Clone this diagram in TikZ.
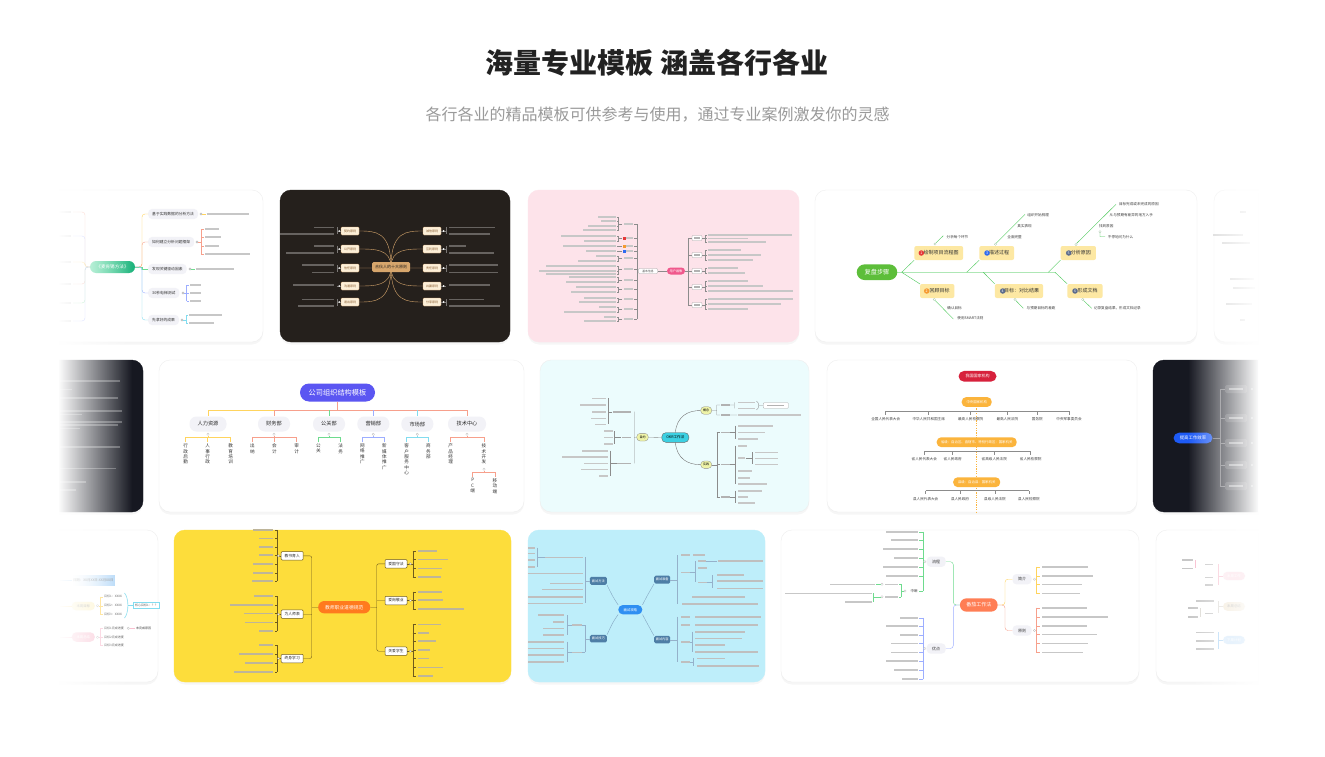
\documentclass[tikz,border=0pt]{standalone}
\usepackage{fontspec}
\setmainfont{Noto Sans CJK SC}
\usepackage{tikz}
\usetikzlibrary{arrows}
\usetikzlibrary{fadings}

\definecolor{titleink}{HTML}{222222}
\definecolor{subink}{HTML}{9A9A9A}
\definecolor{cardline}{HTML}{EEEEEE}
\definecolor{mintL}{HTML}{5ADBA2}
\definecolor{mintR}{HTML}{1DB27C}
\definecolor{pillgray}{HTML}{F2F2F7}
\definecolor{lnyellow}{HTML}{FFD45E}
\definecolor{lnsalmon}{HTML}{F7A08C}
\definecolor{lngreen}{HTML}{6EDB8E}
\definecolor{lnblue}{HTML}{9DAEFF}
\definecolor{lncyan}{HTML}{82DCEF}
\definecolor{darkbg}{HTML}{25201C}
\definecolor{tan}{HTML}{D7A66C}
\definecolor{cream}{HTML}{FCEFD8}
\definecolor{pinkbg}{HTML}{FDE3EA}
\definecolor{rose}{HTML}{F0588C}
\definecolor{fishgreen}{HTML}{5DBE3A}
\definecolor{bonegreen}{HTML}{4BC95A}
\definecolor{boneyellow}{HTML}{FDE8A3}
\definecolor{dotred}{HTML}{E63A3A}
\definecolor{dotorange}{HTML}{F59A30}
\definecolor{dotblue}{HTML}{2F6BF0}
\definecolor{dotslate}{HTML}{5B6B8C}
\definecolor{nightbg}{HTML}{161821}
\definecolor{orgblue}{HTML}{5B56F2}
\definecolor{cyanbg}{HTML}{ECFCFD}
\definecolor{okrcyan}{HTML}{3CD0E2}
\definecolor{okrlime}{HTML}{EEF3A8}
\definecolor{govred}{HTML}{D7213C}
\definecolor{govorange}{HTML}{FBB43C}
\definecolor{tipblue}{HTML}{1D5AF6}
\definecolor{teachyellow}{HTML}{FDDD3B}
\definecolor{teachorange}{HTML}{FF7A1E}
\definecolor{teachline}{HTML}{6E5A1C}
\definecolor{skybg}{HTML}{BEEEFA}
\definecolor{jobblue}{HTML}{2F8FF2}
\definecolor{slate}{HTML}{4E7EA6}
\definecolor{tomato}{HTML}{FF7E55}
\definecolor{weekblue}{HTML}{A8D2F7}
\definecolor{weekyellow}{HTML}{FDF2C6}
\definecolor{weekpink}{HTML}{F9BFD0}
\definecolor{beige}{HTML}{F1E6D2}

\tikzfading[name=fade west,left color=transparent!0,right color=transparent!100]
\tikzfading[name=fade east,left color=transparent!100,right color=transparent!0]

% grey smudge standing for text too small to read
\newcommand{\leafbar}[4][black!22]{\fill[#1] (#2,#3-0.8) rectangle (#2+#4,#3+0.8);}
\newcommand{\leafbarl}[4][black!22]{\fill[#1] (#2-#4,#3-0.8) rectangle (#2,#3+0.8);}
\newcommand{\knob}[2][black!35]{\draw[#1,fill=white,line width=0.3pt] #2 circle (1.2);}

\begin{document}
\begin{tikzpicture}[x=1pt,y=-1pt,
  card/.style={draw=cardline,fill=white,rounded corners=11pt,line width=0.4pt,
    preaction={fill=black,opacity=0.035,draw=none,transform canvas={yshift=-2.5pt}}},
  stem/.style={line width=0.4pt},
  tiny/.style={font=\fontsize{3.6}{4.3}\selectfont,inner sep=0.5pt,text=black!75},
  graypill/.style={fill=pillgray,rounded corners=4pt,minimum height=9pt,inner xsep=4pt,
    font=\fontsize{3.8}{4.5}\selectfont,text=black!80},
  creambox/.style={fill=cream,draw=tan,line width=0.3pt,rounded corners=1pt,minimum width=18pt,
    minimum height=8pt,inner sep=0.5pt,font=\fontsize{3}{3.5}\selectfont,text=brown!70!black},
  whitebox/.style={fill=white,draw=black!35,line width=0.3pt,rounded corners=0.8pt,minimum height=5pt,
    inner sep=0.6pt,font=\fontsize{2.8}{3.2}\selectfont,text=black!70},
  bone/.style={fill=boneyellow,rounded corners=2pt,minimum height=14pt,font=\fontsize{5}{6}\selectfont,text=black!80},
  numdot/.style={circle,inner sep=0pt,minimum size=5.5pt,text=white,font=\fontsize{3.6}{4}\selectfont},
  deptpill/.style={fill=pillgray,rounded corners=7pt,minimum width=32pt,minimum height=15pt,
    font=\fontsize{5.2}{6}\selectfont,text=black!85},
  vtext/.style={anchor=north,align=center,inner sep=0pt,font=\fontsize{4.6}{5.4}\selectfont,text=black!80},
  govpill/.style={fill=govorange,rounded corners=4.5pt,minimum height=9.5pt,inner xsep=4pt,
    font=\fontsize{3.4}{4}\selectfont,text=white},
  teachbox/.style={fill=white,draw=teachline,line width=0.5pt,rounded corners=1pt,minimum width=22pt,
    minimum height=8.5pt,inner sep=0.5pt,font=\fontsize{3.8}{4.5}\selectfont,text=black!85},
  jobbox/.style={fill=slate,rounded corners=1.5pt,minimum width=16pt,minimum height=8pt,inner sep=0.5pt,
    font=\fontsize{3.2}{4}\selectfont,text=white}]
  \tikzstyle{leafline}=[black!45,line width=0.35pt]
  \tikzstyle{govtick}=[black!45,line width=0.5pt]

  \fill[white] (0,0) rectangle (1325,757);
  \useasboundingbox (0,0) rectangle (1325,757);

  \node[font=\fontsize{28}{34}\selectfont\bfseries,text=titleink] (title) at (657,63) {海量专业模板 涵盖各行各业};
  \node[font=\fontsize{16}{20}\selectfont,text=subink] (subtitle) at (657.5,115) {各行各业的精品模板可供参考与使用，通过专业案例激发你的灵感};

  \begin{scope}
  \clip (59,150) rectangle (1258,730);

  % ---------------- row 1 ----------------
  % mckinsey, cut at the left
  \draw[card] (-60,190) rectangle (263,342);
  \foreach \y/\c in {212/lnsalmon,236/lnblue,262/lnyellow,284/lnsalmon,303/lngreen,321/lnblue}{
    \draw[\c,stem,rounded corners=3pt] (90,267) -- (85,267) |- (73,\y);
    \leafbarl{71}{\y}{12}
  }
  \node[left color=mintL,right color=mintR,rounded corners=6pt,minimum width=45pt,minimum height=12pt,
    text=white,font=\fontsize{4.6}{5.5}\selectfont] (mck) at (112.5,267) {《麦肯锡方法》};
  \node[graypill,anchor=west] (mck1) at (148,214) {基于实践数据的分析方法};
  \node[graypill,anchor=west] (mck2) at (148,242) {如何建立分析问题框架};
  \node[graypill,anchor=west] (mck3) at (148,269) {发现关键驱动因素};
  \node[graypill,anchor=west] (mck4) at (148,293) {30秒电梯测试};
  \node[graypill,anchor=west] (mck5) at (148,320) {先拿好的成果};
  \draw[lnyellow,stem,rounded corners=3pt] (mck.east) -- (142,267) |- (mck1.west);
  \draw[lnsalmon,stem,rounded corners=3pt] (mck.east) -- (142,267) |- (mck2.west);
  \draw[lngreen,stem] (mck.east) -- (142,267) |- (mck3.west);
  \draw[lnblue,stem,rounded corners=3pt] (mck.east) -- (142,267) |- (mck4.west);
  \draw[lncyan,stem,rounded corners=3pt] (mck.east) -- (142,267) |- (mck5.west);
  \knob{(201,214)}
  \draw[lnyellow,stem] (202.2,214) -- (206,214);
  \leafbar{207}{214}{42}
  \knob{(197,242)}
  \draw[lnsalmon,stem] (198.2,242) -- (201,242) (201,229) -- (201,254);
  \foreach \y/\l in {229/14,237/16,246/14,254/45}{\draw[lnsalmon,stem] (201,\y) -- (203.5,\y); \leafbar{204.5}{\y}{\l}}
  \knob{(190,269)}
  \draw[lngreen,stem] (191.2,269) -- (195,269);
  \leafbar{196}{269}{38}
  \knob{(183,293)}
  \draw[lnblue,stem] (184.2,293) -- (186.5,293) (186.5,285) -- (186.5,301);
  \foreach \y in {285,293,301}{\draw[lnblue,stem] (186.5,\y) -- (188.5,\y); \leafbar{189.5}{\y}{11}}
  \knob{(182,320)}
  \draw[lncyan,stem] (183.2,320) -- (186,320) (186,315) -- (186,323);
  \foreach \y/\l in {315/33,323/25}{\draw[lncyan,stem] (186,\y) -- (188,\y); \leafbar{189}{\y}{\l}}

  % partners (dark)
  \draw[card,fill=darkbg,draw=darkbg] (280,190) rectangle (510,342);
  \foreach \y/\t [count=\i] in {231/契约原则,249/公开原则,268/信任原则,286/沟通原则,302/退出原则}{
    \draw[tan,stem] (391,267) .. controls (391,\y) and (375,\y) .. (359,\y);
    \node[creambox] (pl\i) at (350,\y) {\t};
  }
  \foreach \y/\t [count=\i] in {231/诚信原则,249/互利原则,268/责任原则,286/共赢原则,302/分享原则}{
    \draw[tan,stem] (391,267) .. controls (391,\y) and (407,\y) .. (423,\y);
    \node[creambox] (pr\i) at (432,\y) {\t};
  }
  \node[fill=tan,rounded corners=1.5pt,minimum width=38pt,minimum height=10pt,inner sep=0.5pt,
    font=\fontsize{4}{5}\selectfont,text=darkbg] (hhr) at (391,267) {合伙人的十大原则};
  \foreach \a/\b/\m in {227.3/234/231,245.7/252.7/249,265/272.3/268,285/285/286,299.3/306/302}{
    \draw[white!40!darkbg,stem] (336.7,\a) -- (336.7,\b) (336.7,\m) -- (341,\m)
      (446,\a) -- (446,\b) (446,\m) -- (441,\m);
    \fill[white] (339.2,\m) circle (0.9) (443.6,\m) circle (0.9);
  }
  \foreach \y/\l in {227.3/20,234/54,245.7/20,252.7/48.7,265/32.7,272.3/22.7,285/41,299.3/32,306/36.7}{
    \leafbarl[white!30!darkbg]{334.3}{\y}{\l}
  }
  \foreach \y/\l in {227.3/46.7,234/41.7,245.7/17.7,252.7/45,265/49,272.3/49,285/41.7,299.3/35,306/51.7}{
    \leafbar[white!30!darkbg]{448.5}{\y}{\l}
  }

  % user portrait (pink)
  \draw[card,fill=pinkbg,draw=pinkbg] (528,190) rectangle (799,342);
  \node[whitebox,minimum width=19pt] (upl) at (648,271) {基本信息};
  \node[fill=rose,text=white,rounded corners=3.5pt,minimum width=18pt,minimum height=7pt,inner sep=0.5pt,
    font=\fontsize{3.2}{4}\selectfont] (upc) at (676,271) {用户画像};
  \draw[leafline] (upl.east) -- (upc.west);
  \draw[leafline] (upl.west) -- (637,271) (637,224) -- (637,319);
  \foreach \s/\a/\b in {224/217/230,238/236/241,246/246/246,251/251/251,258/256/261,269/266/274,
      280/277/282,289/287/292,299/298/302,309/307/312,319/317/321}{
    \draw[leafline] (637,\s) -- (633.5,\s) (622,\s) -- (618.5,\s) (618.5,\a) -- (618.5,\b);
    \leafbarl[black!22]{633}{\s}{9}
  }
  \fill[dotred] (622.5,236.8) rectangle (625.5,239.8);
  \fill[dotorange] (622.5,244.5) rectangle (625.5,247.5);
  \fill[dotblue] (622.5,249.5) rectangle (625.5,252.5);
  \foreach \y/\l in {217/18,221/15,226/28,230/33,236/55,241/32,246/53,251/30,256/20,261/38,266/70,271/77,
      274/70,277/47,282/50,287/40,292/45,298/32,302/37,307/17,312/52,317/12,321/32}{
    \draw[leafline] (618.5,\y) -- (617,\y);
    \leafbarl{616}{\y}{\l}
  }
  \draw[leafline] (upc.east) -- (688,271) (688,238) -- (688,305);
  \foreach \y [count=\i] in {238,255,271,287,305}{
    \draw[leafline] (688,\y) -- (692,\y);
    \node[whitebox,minimum width=10pt] (upr\i) at (697,\y) {};
    \leafbar[black!30]{694}{\y}{6}
  }
  \foreach \s/\a/\b in {238/235/242,255/250/260,271/268/273,287/281/291,305/299/309}{
    \draw[leafline] (702,\s) -- (705,\s) (705,\a) -- (705,\b);
  }
  \foreach \y/\l in {235/84,238.5/40,242/58,250/33,255/53,260/45,268/30,273/37,281/40,286/55,291/85,
      299/85,304/73,309/40}{
    \draw[leafline] (705,\y) -- (707,\y);
    \leafbar{708}{\y}{\l}
  }

  % review steps (fishbone)
  \draw[card] (815,190) rectangle (1197,342);
  \draw[bonegreen!45,line width=1.6pt] (897,272.3) -- (1055,272.3);
  \node[fill=fishgreen,text=white,rounded corners=8pt,minimum width=40.6pt,minimum height=15.7pt,
    font=\fontsize{6.2}{7}\selectfont] (fp) at (877,272.2) {复盘步骤};
  \node[bone,minimum width=48.7pt] (b1) at (938.7,253) {\hspace{5pt}绘制项目流程图};
  \node[bone,minimum width=34.7pt] (b3) at (996.7,253) {\hspace{5pt}描述过程};
  \node[bone,minimum width=35.3pt] (b5) at (1078.3,253) {\hspace{5pt}分析原因};
  \node[bone,minimum width=34.3pt] (b2) at (937.2,291) {\hspace{5pt}回顾目标};
  \node[bone,minimum width=48.3pt] (b4) at (1019,291) {\hspace{5pt}目标：对比结果};
  \node[bone,minimum width=35.3pt] (b6) at (1085,291) {\hspace{5pt}形成文档};
  \node[numdot,fill=dotred] (n1) at (921.3,253) {1};
  \node[numdot,fill=dotblue] (n3) at (987,253) {3};
  \node[numdot,fill=dotslate] (n5) at (1068.7,253) {5};
  \node[numdot,fill=dotorange] (n2) at (926.7,291) {2};
  \node[numdot,fill=dotslate] (n4) at (1002.7,291) {4};
  \node[numdot,fill=dotslate] (n6) at (1075,291) {6};
  \draw[bonegreen,stem] (901.7,272.3) -- (b1.south west) (901.7,272.3) -- (920,284)
    (966.7,272.3) -- (b3.south west) (983.3,272.3) -- (b4.north west)
    (1048.3,272.3) -- (b5.south west) (1055,272.3) -- (b6.north west);
  \draw[bonegreen,stem] (936,242.8) -- (943.3,235.7) (996.3,243) -- (1025,214.3)
    (1076.8,243.2) -- (1116,204.3) (1100,233) |- (1105,236.7)
    (935.2,300.5) -- (953.3,319) (1015.8,300.5) -- (1023.3,308.3) (1083.5,300.5) -- (1091.7,308.3);
  \knob[bonegreen!60!black!40]{(935,244)}
  \knob[bonegreen!60!black!40]{(995.6,244.2)}
  \knob[bonegreen!60!black!40]{(1076,244.4)}
  \knob[bonegreen!60!black!40]{(1100,231.7)}
  \knob[bonegreen!60!black!40]{(934.3,299.5)}
  \knob[bonegreen!60!black!40]{(1015,299.5)}
  \knob[bonegreen!60!black!40]{(1082.7,299.5)}
  \node[tiny,anchor=west] (f1) at (946,236.7) {分析每个环节};
  \node[tiny,anchor=west] (f2) at (1026.7,215) {组织开始梳理};
  \node[tiny,anchor=west] (f3) at (1016.7,225.7) {真实表现};
  \node[tiny,anchor=west] (f4) at (1006.7,236.7) {全面完整};
  \node[tiny,anchor=west] (f5) at (1118.3,204.3) {目标完成或未完成的原因};
  \node[tiny,anchor=west] (f6) at (1109,215) {从与预期有差异的地方入手};
  \node[tiny,anchor=west] (f7) at (1098.3,225.7) {找到原因};
  \node[tiny,anchor=west] (f8) at (1107.2,236.7) {不停地问为什么};
  \node[tiny,anchor=west] (f9) at (946.7,308.3) {确认目标};
  \node[tiny,anchor=west] (f10) at (956.7,318.3) {使用SMART法则};
  \node[tiny,anchor=west] (f11) at (1026,308.3) {与预期目标的差距};
  \node[tiny,anchor=west] (f12) at (1093.3,308.3) {记录复盘结果，形成文档记录};

  % next card, cut at the right
  \draw[card] (1214,190) rectangle (1400,342);
  \foreach \y/\a/\l in {212/1240/6,235/1213/30,243/1222/28,279/1230/24,288/1233/22,304/1226/26,320/1240/5}{
    \leafbar[black!18]{\a}{\y}{\l}
  }

  % ---------------- row 2 ----------------
  % dark notes, cut at the left
  \draw[card,fill=nightbg,draw=nightbg] (-60,360) rectangle (143,512);
  \foreach \y/\l in {381/60,389.3/12,397.7/58,411/62,414.3/22,421.7/62,425/58,428.3/20,446.7/60,468.3/56,
      481.7/26,490/16}{
    \leafbar[white!28!nightbg]{60}{\y}{\l}
  }

  % company org chart
  \draw[card] (159,360) rectangle (524,512);
  \node[fill=orgblue,text=white,rounded corners=9pt,minimum width=75pt,minimum height=18pt,
    font=\fontsize{7.2}{8}\selectfont] (org) at (337.5,392.5) {公司组织结构模板};
  \node[deptpill,minimum width=37pt] (hr) at (208,424) {人力资源};
  \node[deptpill] (fin) at (274,424) {财务部};
  \node[deptpill] (pr) at (329,424) {公关部};
  \node[deptpill] (mkt) at (373.3,424) {营销部};
  \node[deptpill] (mar) at (417.3,424) {市场部};
  \node[deptpill,minimum width=38pt] (tech) at (467,424) {技术中心};
  \draw[lnsalmon,line width=0.6pt] (org.south) -- (337.5,410) (274,410) -- (467,410);
  \draw[lnyellow,line width=0.6pt] (208,410) -- (274,410) (208,410) -- (hr.north);
  \draw[lnsalmon,line width=0.6pt] (274,410) -- (fin.north) (467,410) -- (tech.north);
  \draw[lngreen,line width=0.6pt] (329,410) -- (pr.north);
  \draw[lnblue,line width=0.6pt] (373.3,410) -- (mkt.north);
  \draw[lncyan,line width=0.6pt] (417.3,410) -- (mar.north);
  \foreach \c/\m/\a/\b in {lnyellow/208/185.7/230.7,lnsalmon/274/252.3/296.7,lngreen/329/318.3/340.7,
      lnblue/373.3/362.3/384.3,lncyan/417.3/406.7/428.3,lnsalmon/467/450.7/484}{
    \draw[\c,line width=0.6pt] (\m,435.5) -- (\m,437.3) (\a,442.3) -- (\a,437.3) -- (\b,437.3) -- (\b,442.3);
    \knob[black!25]{(\m,434.3)}
  }
  \draw[lnyellow,line width=0.6pt] (207.7,437.3) -- (207.7,442.3);
  \draw[lnsalmon,line width=0.6pt] (274.3,437.3) -- (274.3,442.3);
  \foreach \x/\t [count=\i] in {185.7/行\\政\\后\\勤,207.7/人\\事\\行\\政,230.7/教\\育\\培\\训,252.3/出\\纳,
      274.3/会\\计,296.7/审\\计,318.3/公\\关,340.7/法\\务,362.3/网\\络\\推\\广,384.3/新\\媒\\体\\推\\广,
      406.7/客\\户\\服\\务\\中\\心,428.3/商\\务\\部,450.7/产\\品\\经\\理,484/技\\术\\开\\发}{
    \node[vtext] (dep\i) at (\x,443.6) {\t};
  }
  \draw[lnsalmon,line width=0.6pt] (484,470.5) -- (484,472.3) (472.7,477) -- (472.7,472.3) -- (495,472.3) -- (495,477);
  \knob[black!25]{(484,469.3)}
  \node[vtext] (pc) at (472.7,478.3) {P\\C\\端};
  \node[vtext] (mob) at (495,478.3) {移\\动\\端};

  % okr (light cyan)
  \draw[card,fill=cyanbg] (540,360) rectangle (809,512);
  \node[fill=okrcyan,draw=black!60,line width=0.4pt,rounded corners=4pt,minimum width=27pt,minimum height=9.6pt,
    inner sep=0.5pt,font=\fontsize{3.6}{4.3}\selectfont] (okr) at (675.3,437.5) {OKR工作法};
  \node[fill=okrlime,draw=black!45,line width=0.3pt,rounded corners=3.5pt,minimum width=11.6pt,minimum height=7.7pt,
    inner sep=0.3pt,font=\fontsize{3}{3.5}\selectfont] (okl) at (642.5,437.2) {目的};
  \node[fill=okrlime,draw=black!45,line width=0.3pt,rounded corners=3.5pt,minimum width=11pt,minimum height=7.6pt,
    inner sep=0.3pt,font=\fontsize{3}{3.5}\selectfont] (ok1) at (706.2,410.5) {概念};
  \node[fill=okrlime,draw=black!45,line width=0.3pt,rounded corners=3.5pt,minimum width=11pt,minimum height=7.3pt,
    inner sep=0.3pt,font=\fontsize{3}{3.5}\selectfont] (ok2) at (706.2,464.7) {实践};
  \draw[black!55,stem] (okr.north) .. controls (677,416) and (688,410.5) .. (ok1.west);
  \draw[black!55,stem] (okr.south) .. controls (677,459) and (688,464.7) .. (ok2.west);
  \draw[leafline] (okl.east) -- (okr.west) (okl.west) -- (634.3,437.2) (634.3,411.7) -- (634.3,463.3);
  \foreach \y/\l in {411.7/17.7,437.3/9,463.3/14}{\leafbarl[black!30]{630.5}{\y}{\l}}
  \draw[leafline] (612.3,411.7) -- (607.7,411.7) (607.7,398.3) -- (607.7,424.3)
    (621,437.3) -- (614.3,437.3) (614.3,431) -- (614.3,444)
    (616.5,463.3) -- (610,463.3) (610,450.7) -- (610,475.7);
  \foreach \y/\l in {398.3/13.3,405/25.7,411.7/13.3,418.3/15,424.3/11}{\leafbarl{605.5}{\y}{\l}}
  \foreach \y in {431,437.3,444}{\leafbarl{612.5}{\y}{8.3}}
  \foreach \y/\l in {450.7/26,456.7/46,463.3/24.3,469.3/27.7,475.7/9.3}{\leafbarl{608.3}{\y}{\l}}
  \draw[leafline] (ok1.east) -- (716.7,410.5) (716.7,405) -- (716.7,415) (716.7,405) -- (720,405) (716.7,415) -- (720,415)
    (730,405) -- (734.3,405) (734.3,402.3) -- (734.3,408.3) (730,415) -- (737,415)
    (756.5,401) .. controls (759.5,403) and (759.5,408) .. (756.5,410) (759,405.5) -- (763.3,405.5);
  \node[whitebox,minimum width=25pt,minimum height=5.6pt] (okbox) at (775.8,405.5) {};
  \leafbar[black!30]{767}{405.5}{17}
  \foreach \y in {405,415}{\leafbar[black!30]{720.5}{\y}{9}}
  \foreach \y in {402.3,408.3}{\leafbar{738.3}{\y}{16.7}}
  \leafbar{738.3}{415}{63}
  \draw[leafline] (ok2.east) -- (716.7,464.7) (716.7,432.3) -- (716.7,496.7)
    (735,425.7) -- (735,439) (735,445.7) -- (735,484) (735,490.7) -- (735,502.7) (751.7,452.3) -- (751.7,464.3)
    (745.5,457.7) -- (751.7,457.7);
  \foreach \y in {432.3,464.3,496.7}{\draw[leafline] (716.7,\y) -- (720,\y) (730,\y) -- (735,\y); \leafbar[black!30]{720.5}{\y}{9}}
  \foreach \y/\l in {425.7/35,432.3/26.7,439/20,445.7/8.3,457.7/7,470.7/13.3,477.7/11.7,484/28.3,490.7/23.3,
      496.7/10,502.7/16.7}{\leafbar{738.3}{\y}{\l}}
  \foreach \y in {452.3,458.3,464.3}{\leafbar{755}{\y}{23.3}}

  % state organs
  \draw[card] (827,360) rectangle (1137,512);
  \draw[govorange,line width=0.5pt,dash pattern=on 1.2pt off 1.2pt] (976.7,406) -- (976.7,512);
  \node[fill=govred,text=white,rounded corners=5.5pt,minimum width=38pt,minimum height=10.7pt,inner sep=0.5pt,
    font=\fontsize{4}{5}\selectfont] (gov) at (977.5,376.3) {我国国家机构};
  \node[govpill,minimum width=30pt] (gov1) at (976.7,402) {中央国家机构};
  \node[govpill,minimum width=80pt] (gov2) at (976.7,442.2) {省级：自治区、直辖市、特别行政区：国家机关};
  \node[govpill,minimum width=47pt] (gov3) at (976.7,482.2) {县级：自治县：国家机关};
  \draw[govtick] (885.7,411) -- (1069,411) (924.3,451) -- (1030.7,451) (925.7,490.7) -- (1029,490.7);
  \foreach \x/\t [count=\i] in {885.7/全国人民代表大会,928.7/中华人民共和国主席,970.7/最高人民检察院,
      1007.3/最高人民法院,1037.3/国务院,1069/中央军事委员会}{
    \draw[govtick] (\x,411) -- (\x,414.5);
    \node[tiny] (ga\i) at (\x,419) {\t};
  }
  \foreach \x/\t [count=\i] in {924.3/省人民代表大会,952.7/省人民政府,994.3/省高级人民法院,1030.7/省人民检察院}{
    \draw[govtick] (\x,451) -- (\x,454.5);
    \node[tiny] (gb\i) at (\x,459) {\t};
  }
  \foreach \x/\t [count=\i] in {925.7/县人民代表大会,960/县人民政府,995/县级人民法院,1029/县人民检察院}{
    \draw[govtick] (\x,490.7) -- (\x,494.2);
    \node[tiny] (gc\i) at (\x,499) {\t};
  }

  % efficiency (dark), cut at the right
  \draw[card,fill=nightbg,draw=nightbg] (1153,360) rectangle (1400,512);
  \node[fill=tipblue,text=white,rounded corners=5.5pt,minimum width=39pt,minimum height=10.6pt,inner sep=0.5pt,
    font=\fontsize{4.4}{5}\selectfont] (eff) at (1193,438) {提高工作效率};
  \draw[white!35!nightbg,stem] (eff.east) -- (1220,438) (1220,389) -- (1220,486);
  \foreach \y [count=\i] in {389,418,443,465,486}{
    \draw[white!35!nightbg,stem] (1220,\y) -- (1225,\y);
    \node[fill=white!14!nightbg,rounded corners=1.5pt,minimum width=22pt,minimum height=8pt] (ef\i) at (1236,\y) {};
    \leafbar[white!50!nightbg]{1229}{\y}{14}
    \fill[white!80!nightbg] (1252,\y) circle (0.9);
  }

  % ---------------- row 3 ----------------
  % weekly report, cut at the left
  \draw[card] (-60,530) rectangle (158,682);
  \draw[weekblue,stem] (60,580) -- (72,580);
  \node[left color=white,right color=weekblue,minimum width=43pt,minimum height=10pt,inner sep=0.5pt,
    font=\fontsize{3.4}{4}\selectfont,text=black!55] (wk0) at (93.3,580) {日期：XX月XX日-XX月XX日};
  \node[fill=weekyellow,rounded corners=4pt,minimum width=23pt,minimum height=8.5pt,inner sep=0.5pt,
    font=\fontsize{3.4}{4}\selectfont,text=black!45] (wk1) at (83.3,606) {本周目标};
  \node[fill=weekpink,rounded corners=4.5pt,minimum width=23pt,minimum height=9.5pt,inner sep=0.5pt,
    font=\fontsize{3.4}{4}\selectfont,text=white] (wk2) at (83.3,637) {本周总结};
  \draw[lnyellow!70,stem] (60,606) -- (wk1.west);
  \draw[weekpink,stem] (60,637) -- (wk2.west);
  \knob[black!25]{(97.5,605.7)}
  \knob[black!25]{(97.5,637.3)}
  \draw[lnyellow,stem] (98.7,605.7) -- (100,605.7) (100,596.7) -- (100,614.3);
  \draw[weekpink,stem] (98.7,637.3) -- (100,637.3) (100,628.3) -- (100,645);
  \foreach \y/\t [count=\i] in {596.7/目标1：XXXX,605.7/目标2：XXXX,614.3/目标3：XXXX}{
    \draw[lnyellow,stem] (100,\y) -- (103,\y);
    \node[tiny,anchor=west,font=\fontsize{3}{3.5}\selectfont] (wt\i) at (103.5,\y) {\t};
  }
  \foreach \y/\t [count=\i] in {628.3/目标1完成进度,637.3/目标2完成进度,645/目标3完成进度}{
    \draw[weekpink,stem] (100,\y) -- (103,\y);
    \node[tiny,anchor=west,font=\fontsize{3}{3.5}\selectfont] (ws\i) at (103.5,\y) {\t};
  }
  \draw[lncyan,line width=0.6pt] (124.5,593) .. controls (129,598) and (129,613) .. (124.5,618);
  \draw[lncyan,stem] (128,605.5) -- (133.3,605.5);
  \node[fill=white,draw=lncyan,line width=0.4pt,minimum width=26pt,minimum height=6pt,inner sep=0.3pt,
    font=\fontsize{3}{3.5}\selectfont,text=black!60,anchor=west] (wcore) at (133.3,605.5) {核心目标1：？？};
  \knob[black!25]{(128.3,628.3)}
  \draw[weekpink,stem] (129.5,628.3) -- (135,628.3);
  \node[tiny,anchor=west,font=\fontsize{3}{3.5}\selectfont] (wwhy) at (135.5,628.3) {未完成原因};

  % teachers' code (yellow)
  \draw[card,fill=teachyellow,draw=teachyellow] (174,530) rectangle (511,682);
  \node[fill=teachorange,text=white,rounded corners=6pt,minimum width=52pt,minimum height=12.3pt,inner sep=0.5pt,
    font=\fontsize{4.8}{5.5}\selectfont] (tch) at (344.2,607.2) {教师职业道德规范};
  \node[teachbox] (tl1) at (292.2,555.8) {教书育人};
  \node[teachbox] (tl2) at (292.2,614.2) {为人师表};
  \node[teachbox] (tl3) at (292.2,658.5) {终身学习};
  \node[teachbox] (tr1) at (396,563.8) {爱国守法};
  \node[teachbox] (tr2) at (396,600.5) {爱岗敬业};
  \node[teachbox] (tr3) at (396,651.2) {关爱学生};
  \draw[teachline,stem,rounded corners=2pt] (tch.west) -- (311.7,607.2)
    (tl1.east) -| (311.7,607.2) (tl3.east) -| (311.7,607.2) (tl2.east) -- (311.7,614.2);
  \draw[teachline,stem,rounded corners=2pt] (tch.east) -- (376.7,607.2)
    (tr1.west) -| (376.7,607.2) (tr3.west) -| (376.7,607.2) (tr2.west) -- (376.7,600.5);
  \draw[teachline,stem] (276.7,530) -- (276.7,581) (276.7,596) -- (276.7,630.7) (276.7,645) -- (276.7,671.7)
    (276.7,555.8) -- (tl1.west) (276.7,614.2) -- (tl2.west) (276.7,658.5) -- (tl3.west)
    (412.7,551) -- (412.7,576.7) (412.7,591.7) -- (412.7,609) (412.7,624.3) -- (412.7,675.7)
    (412.7,563.8) -- (tr1.east) (412.7,600.5) -- (tr2.east) (412.7,651.2) -- (tr3.east);
  \foreach \y/\l in {530/20,538.3/14.3,546.7/14.3,555/14.3,564/20,572.7/20,581/21,596/19.3,605/43.3,613.3/29.3,
      622.3/28.3,630.7/14.3,645/14.3,654/34.3,662.7/28.3,671.7/38.9}{
    \draw[teachline,stem] (276.7,\y) -- (274.5,\y);
    \leafbarl[teachline!45]{273.3}{\y}{\l}
  }
  \foreach \y/\l in {551/19,559.3/30.7,568.3/24,576.7/23.3,591.7/24,600/25.7,609/46.7,624.3/23.3,632.7/11.7,
      641/18.3,650/12.3,658.3/11.7,667.3/25.7,675.7/15}{
    \draw[teachline,stem] (412.7,\y) -- (415.5,\y);
    \leafbar[teachline!45]{417.7}{\y}{\l}
  }
  \foreach \p in {(278.5,555.8),(278.5,614.2),(278.5,658.5),(410.3,563.8),(410.3,600.5),(410.3,651.2)}{
    \knob[teachline!60]{\p}
  }

  % job interview (light blue)
  \draw[card,fill=skybg,draw=skybg] (528,530) rectangle (765,682);
  \node[fill=jobblue,text=white,rounded corners=4.5pt,minimum width=24pt,minimum height=9.3pt,inner sep=0.5pt,
    font=\fontsize{3.4}{4}\selectfont] (job) at (630.3,609.7) {面试攻略};
  \node[jobbox] (jr1) at (662.2,579.7) {面试准备};
  \node[jobbox,minimum height=7.5pt] (jr2) at (662.2,639.7) {面试内容};
  \node[jobbox,minimum width=17pt] (jl1) at (598.3,580.8) {面试方法};
  \node[jobbox,minimum width=17pt,minimum height=7.5pt] (jl2) at (598.3,638.7) {面试技巧};
  \draw[slate!70,stem] (job.north east) .. controls (647,596) .. (jr1.south west)
    (job.south east) .. controls (647,623) .. (jr2.north west)
    (job.north west) .. controls (613,597) .. (jl1.south east)
    (job.south west) .. controls (613,622) .. (jl2.north east);
  \draw[slate!60,stem] (jr1.east) -- (676.7,579.7) (676.7,555) -- (676.7,604)
    (690,572.3) -- (695,572.3) (695,561) -- (695,582.3) (707,582.3) -- (711.7,582.3) (711.7,575) -- (711.7,588.3)
    (706,561) -- (717,561)
    (jr2.east) -- (676.7,639.7) (676.7,616.7) -- (676.7,661.7)
    (690,641.7) -- (691.7,641.7) (691.7,631.7) -- (691.7,651.7) (690,661.7) -- (693,661.7) (693,658.3) -- (693,665.7)
    (jl1.west) -- (585,580.8) (585,557.3) -- (585,603.3) (545,557.3) -- (536.7,557.3) (536.7,547.7) -- (536.7,566.7)
    (jl2.west) -- (585,638.7) (585,625) -- (585,652.3) (585,625) -- (582,625) (585,652.3) -- (582,652.3)
    (571.7,625) -- (566.7,625) (566.7,615) -- (566.7,635) (571.7,652.3) -- (566.7,652.3) (566.7,641.7) -- (566.7,661.7);
  \foreach \x/\y/\l in {681/555/9,693/555/12,681/572.3/9,698/561/8,718/561/45,698/567.7/9,698/582.3/9,716.7/575/27,
      716.7/581/46,716.7/588.3/46,691.7/596.7/53,681.7/604/76,681/616.7/9,695/616.7/66,681/625/9,695/625/63,
      681/641.7/9,695/631.7/50,695/638.3/47,695/645/30,695/651.7/63,681/661.7/9,696.7/658.3/28,696.7/665.7/62}{
    \leafbar[black!25]{\x}{\y}{\l}
  }
  \foreach \x/\y/\l in {583/557.3/38,583/573.3/55,583/583.3/33,583/589.3/41,583/596.7/55,583/603.3/55,
      535/547.7/7,535/553.3/7,535/560/7,535/566.7/7,581.7/625/10,581.7/652.3/10,
      564.3/615/26,564.3/621.7/11,564.3/628.3/21,564.3/635/21,564.3/641.7/36,564.3/648.3/36,564.3/655/36,564.3/661.7/36}{
    \leafbarl[black!25]{\x}{\y}{\l}
  }

  % pomodoro
  \draw[card] (781,530) rectangle (1139,682);
  \node[fill=tomato,text=white,rounded corners=6.5pt,minimum width=37.7pt,minimum height=13.3pt,inner sep=0.5pt,
    font=\fontsize{5}{6}\selectfont] (tom) at (978.8,605) {番茄工作法};
  \node[graypill,minimum width=19pt,font=\fontsize{4}{5}\selectfont] (tflow) at (936.2,561.7) {流程};
  \node[graypill,minimum width=19pt,font=\fontsize{4}{5}\selectfont] (tgood) at (936.2,648.5) {优点};
  \node[graypill,minimum width=19pt,font=\fontsize{4}{5}\selectfont] (tintro) at (1022,579.2) {简介};
  \node[graypill,minimum width=19pt,font=\fontsize{4}{5}\selectfont] (trule) at (1022,630.5) {原则};
  \draw[lngreen,stem,rounded corners=3pt] (tom.west) -- (953.3,605) |- (tflow.east);
  \draw[lnblue,stem,rounded corners=3pt] (tom.west) -- (953.3,605) |- (tgood.east);
  \draw[lnyellow,stem,rounded corners=3pt] (tom.east) -- (1005,605) |- (tintro.west);
  \draw[lnsalmon,stem,rounded corners=3pt] (tom.east) -- (1005,605) |- (trule.west);
  \draw[lngreen,stem] (923.3,531.7) -- (923.3,591) (923.3,591) -- (919,591)
    (903.8,591) -- (901,591) (901,584.3) -- (901,596.7) (901,584.3) -- (899,584.3) (901,596.7) -- (899,596.7)
    (880.8,584.3) -- (876,584.3) (880.8,596.7) -- (873.3,596.7) (873.3,593.3) -- (873.3,601.7);
  \node[tiny,anchor=east] (tbreak) at (918.5,591) {中断};
  \knob[black!25]{(905,591)}
  \knob[black!25]{(882,584.3)}
  \knob[black!25]{(882,596.7)}
  \foreach \y/\l in {531.7/31.7,540/26.7,549/35,557.7/23.3,566.7/35,575.7/31.7}{
    \draw[lngreen,stem] (923.3,\y) -- (919,\y);
    \leafbarl{917.5}{\y}{\l}
  }
  \foreach \x/\y/\l in {898.3/584.3/13.3,898.3/596.7/13.3,875/584.3/45,871.7/593.3/86.7,871.7/601.7/26.7}{
    \leafbarl{\x}{\y}{\l}
  }
  \draw[lnblue,stem] (923.3,617.7) -- (923.3,679);
  \foreach \y/\l in {617.7/17.3,625.7/31.7,635/17.7,643.3/26.7,652.3/26.7,661/31.7,670/23.3,679/15.7}{
    \draw[lnblue,stem] (923.3,\y) -- (919,\y);
    \leafbarl{917.5}{\y}{\l}
  }
  \draw[lnyellow,stem] (1036,566.7) -- (1036,593.3);
  \foreach \y/\l in {566.7/46.7,575.7/51.7,584.3/40,593.3/38.3}{
    \draw[lnyellow,stem] (1036,\y) -- (1040,\y);
    \leafbar{1041.7}{\y}{\l}
  }
  \draw[lnsalmon,stem] (1036,607.7) -- (1036,652.3);
  \foreach \y/\l in {607.7/45,616.7/66.7,625.7/45,634.3/55,643.3/46.7,652.3/41.7}{
    \draw[lnsalmon,stem] (1036,\y) -- (1040,\y);
    \leafbar{1041.7}{\y}{\l}
  }
  \knob[black!25]{(924.8,561.7)}
  \knob[black!25]{(924.8,648.5)}
  \knob[black!25]{(1034.5,579.2)}
  \knob[black!25]{(1034.5,630.5)}

  % weekly plan, cut at the right
  \draw[card] (1156,530) rectangle (1400,682);
  \node[left color=weekpink!40,right color=weekpink,rounded corners=4pt,minimum width=22pt,minimum height=8.3pt,
    inner sep=0.5pt,font=\fontsize{3.4}{4}\selectfont,text=white] (wj1) at (1234,576) {本周工作};
  \node[fill=beige,rounded corners=4.5pt,minimum width=22pt,minimum height=8.7pt,inner sep=0.5pt,
    font=\fontsize{3.4}{4}\selectfont,text=black!40] (wj2) at (1234,606.5) {本周总结};
  \node[left color=weekblue!50,right color=weekblue,rounded corners=4.5pt,minimum width=22pt,minimum height=8.3pt,
    inner sep=0.5pt,font=\fontsize{3.4}{4}\selectfont,text=white] (wj3) at (1234,640) {下周计划};
  \draw[weekpink,stem] (wj1.west) -- (1218.3,576) (1218.3,564.3) -- (1218.3,585) (1195,560) -- (1195,568.3);
  \draw[beige!70!black!40,stem] (wj2.west) -- (1218,606.5) (1218,601) -- (1218,613.3) (1200,608) -- (1200,617);
  \draw[weekblue,stem] (wj3.west) -- (1218,640) (1218,632.3) -- (1218,649);
  \foreach \x/\y/\l in {1213.3/564.3/8,1213.3/577.3/8,1213.3/585/8,1193/560/11,1193/568.3/11,
      1214/601/18,1213/613.3/8,1198/608/10,1198/617/10,1214/632.3/18,1214/640.7/18,1214/649/18}{
    \leafbarl[black!22]{\x}{\y}{\l}
  }
  \end{scope}

  % page edges fade into white
  \fill[white,path fading=fade west] (58,165) rectangle (132,705);
  \fill[white,path fading=fade east] (1188,165) rectangle (1259,705);
\end{tikzpicture}
\end{document}
